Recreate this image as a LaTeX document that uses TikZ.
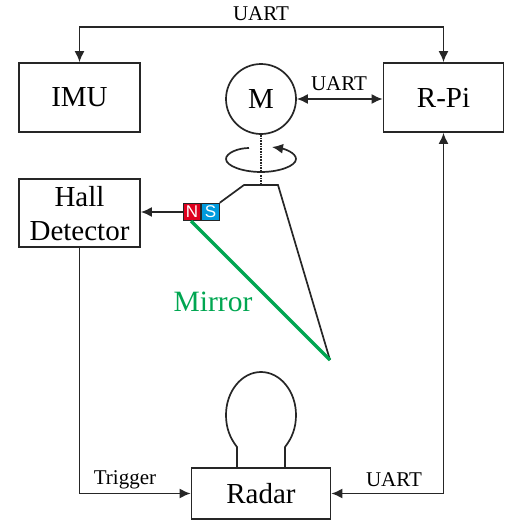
\documentclass[tikz,border=0pt]{standalone}
\usepackage{fontspec}
\setmainfont{Liberation Serif}
\setsansfont{Liberation Sans}
\usetikzlibrary{arrows.meta}
\usetikzlibrary{calc}
\usetikzlibrary{positioning}
\definecolor{mirrorgreen}{RGB}{0,166,81}
\definecolor{poleblue}{RGB}{0,155,222}
\definecolor{polered}{RGB}{222,0,30}
\tikzset{block/.style={rectangle,draw=black!85,line width=1.7pt,inner sep=0pt,align=center,
font=\fontsize{29}{34}\selectfont},
pole/.style={rectangle,draw=black!85,line width=1pt,inner sep=0pt,minimum width=17.5pt,minimum height=17.5pt,
text=white,font=\sffamily\fontsize{17}{17}\selectfont},
link/.style={line width=1.7pt,draw=black!85},
tag/.style={inner sep=0pt,font=\fontsize{21}{21}\selectfont},
>={Latex[length=11pt,width=10pt]}}
\begin{document}
\begin{tikzpicture}[x=1pt,y=-1pt]
  \useasboundingbox (0,0) rectangle (506,520);
  \node (imu) [block,minimum width=121pt,minimum height=69pt] at (79.5,97.5) {IMU};
  \node (rpi) [block,minimum width=120pt,minimum height=69pt] at (443.5,97.5) {R-Pi};
  \node (hall) [block,minimum width=121pt,minimum height=68pt] at (79.5,213) {\rule{0pt}{22pt}Hall\\Detector};
  \node (radar) [block,minimum width=139pt,minimum height=51pt] at (261,493.5) {Radar};
  \node (motor) [block,circle,minimum size=70pt] at (261,99) {M};
  \node (north) [pole,fill=polered] at (192,212) {N};
  \node (south) [pole,fill=poleblue,right=0pt of north] {S};

  \coordinate (topl) at (imu.north |- 0,27);
  \coordinate (topr) at (rpi.north |- 0,27);
  \coordinate (trig) at (hall.south |- radar.west);
  \coordinate (back) at (rpi.south |- radar.east);
  \coordinate (shaft1) at (261,170);
  \coordinate (shaft2) at (261,175);
  \coordinate (arm1) at (244,185);
  \coordinate (arm2) at (278,185);
  \coordinate (shaft3) at (261,185);
  \coordinate (tip) at (330,360);

  \draw [link,<->] (imu.north) -- (topl) -- (topr) -- (rpi.north);
  \draw [link,<->] (motor.east) -- (rpi.west |- motor.east);
  \draw [link,<->] (rpi.south) -- (back) -- (radar.east);
  \draw [link,->] (hall.south) -- (trig) -- (radar.west);
  \draw [link,->] (north.west) -- (hall.east |- north.west);

  \draw [link,densely dotted] (motor.south) -- (shaft1);
  \draw [link,densely dotted] (shaft2) -- (shaft3);
  \draw [link,->] (249,148) .. controls (238,148) and (226,153) .. (226,159)
    .. controls (226,166) and (243,172) .. (261,172)
    .. controls (279,172) and (296,166) .. (296,159)
    .. controls (296,153) and (285,149) .. (272,147);

  \draw [link] (south.north east) -- (arm1) -- (arm2) -- (tip);
  \draw [line width=3.5pt,draw=mirrorgreen] (191,221) -- (tip);

  \node (uart1) [tag] at (261,14) {UART};
  \node (uart2) [tag] at (339,84) {UART};
  \node (uart3) [tag] at (394,480) {UART};
  \node (trigger) [tag] at (125,480) {Trigger};
  \node (mirror) [inner sep=0pt,text=mirrorgreen,font=\fontsize{29.5}{29.5}\selectfont] at (213,302) {Mirror};

  \draw [link] (237,467.5) -- (237,447) .. controls (230,438) and (226,428) .. (226,415)
    .. controls (226,391) and (242,372) .. (261,372)
    .. controls (280,372) and (296,391) .. (296,415)
    .. controls (296,428) and (292,438) .. (285,447) -- (285,467.5);
\end{tikzpicture}
\end{document}
